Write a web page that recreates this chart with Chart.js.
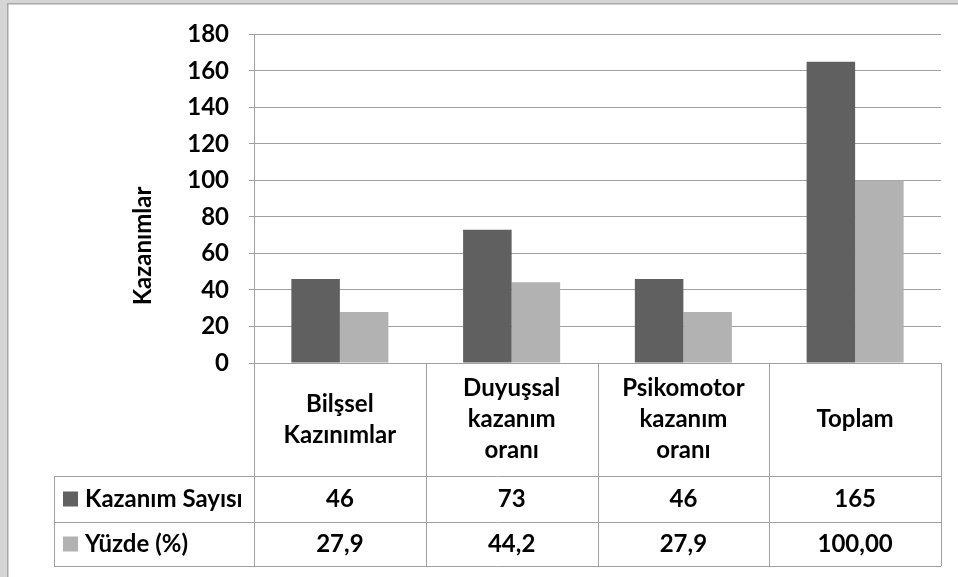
<!DOCTYPE html>
<html>
<head>
<meta charset="utf-8">
<script src="https://cdn.jsdelivr.net/npm/chart.js@4.4.1/dist/chart.umd.min.js"></script>
<style>
    html, body { margin: 0; padding: 0; background: #fff; }
    canvas { display: block; }
</style>
</head>
<body>
<canvas id="chart" width="958" height="577"></canvas>
<script>
// Veriler
const categories = [
    ['Bilşsel', 'Kazınımlar'],
    ['Duyuşsal', 'kazanım', 'oranı'],
    ['Psikomotor', 'kazanım', 'oranı'],
    ['Toplam']
];
const seriesNames = ['Kazanım Sayısı', 'Yüzde (%)'];
const kazanimSayisi = [46, 73, 46, 165];
const yuzde = [27.9, 44.2, 27.9, 100];
const kazanimLabels = ['46', '73', '46', '165'];
const yuzdeLabels = ['27,9', '44,2', '27,9', '100,00'];
const yMin = 0, yMax = 180, yStep = 20;
const yTitle = 'Kazanımlar';

const darkColor = '#606060';
const lightColor = '#b2b2b2';
const lineColor = '#a0a0a0';
const fontFamily = 'Lato, "Open Sans", sans-serif';

// Çerçeve (gri kenar)
const framePlugin = {
    id: 'frame',
    beforeDraw(chart) {
        const ctx = chart.ctx;
        ctx.save();
        ctx.fillStyle = '#fff';
        ctx.fillRect(0, 0, chart.width, chart.height);
        ctx.fillStyle = '#d6d6d6';
        ctx.fillRect(0, 0, chart.width, 3);
        ctx.fillRect(0, 0, 7, chart.height);
        ctx.fillStyle = '#a8a8a8';
        ctx.fillRect(7, 3, chart.width - 7, 1.5);
        ctx.fillRect(7, 3, 1.5, chart.height - 3);
        ctx.restore();
    }
};

// Veri tablosu ve eksen başlığı
const tablePlugin = {
    id: 'dataTable',
    afterDraw(chart) {
        const ctx = chart.ctx;
        const area = chart.chartArea;
        const xs = chart.scales.x;
        const n = categories.length;
        const catW = area.width / n;
        const top = area.bottom;
        const row1 = 476, row2 = 522, bottom = 566, legendLeft = 54;

        ctx.save();
        ctx.strokeStyle = lineColor;
        ctx.lineWidth = 1;

        function hLine(x1, x2, y) {
            ctx.beginPath();
            ctx.moveTo(x1, Math.round(y) + 0.5);
            ctx.lineTo(x2, Math.round(y) + 0.5);
            ctx.stroke();
        }
        function vLine(x, y1, y2) {
            ctx.beginPath();
            ctx.moveTo(Math.round(x) + 0.5, y1);
            ctx.lineTo(Math.round(x) + 0.5, y2);
            ctx.stroke();
        }

        hLine(area.left, area.right, top);
        hLine(legendLeft, area.right, row1);
        hLine(legendLeft, area.right, row2);
        hLine(legendLeft, area.right, bottom);
        vLine(legendLeft, row1, bottom);
        vLine(area.left, top, bottom);
        for (let i = 0; i < n; i++) {
            vLine(xs.getPixelForValue(i) + catW / 2, top, bottom);
        }

        ctx.fillStyle = '#000';
        ctx.font = 'bold 24px ' + fontFamily;
        ctx.textAlign = 'center';
        ctx.textBaseline = 'middle';
        const lineH = 31;
        categories.forEach((lines, i) => {
            const cx = xs.getPixelForValue(i);
            const cy = (top + row1) / 2;
            lines.forEach((t, k) => {
                ctx.fillText(t, cx, cy + (k - (lines.length - 1) / 2) * lineH);
            });
            ctx.fillText(kazanimLabels[i], cx, (row1 + row2) / 2);
            ctx.fillText(yuzdeLabels[i], cx, (row2 + bottom) / 2);
        });

        // Lejant hücreleri
        ctx.textAlign = 'left';
        [[darkColor, (row1 + row2) / 2], [lightColor, (row2 + bottom) / 2]].forEach(([c, y], k) => {
            ctx.fillStyle = c;
            ctx.fillRect(63, y - 7.5, 15, 15);
            ctx.fillStyle = '#000';
            ctx.fillText(seriesNames[k], 85, y);
        });

        // Y ekseni başlığı
        ctx.translate(143, 246);
        ctx.rotate(-Math.PI / 2);
        ctx.textAlign = 'center';
        ctx.font = 'bold 24px ' + fontFamily;
        ctx.fillText(yTitle, 0, 0);
        ctx.restore();
    }
};

const ctx = document.getElementById('chart').getContext('2d');
new Chart(ctx, {
    type: 'bar',
    data: {
        labels: categories,
        datasets: [
            {
                label: seriesNames[0],
                data: kazanimSayisi,
                backgroundColor: darkColor,
                categoryPercentage: 0.565,
                barPercentage: 1
            },
            {
                label: seriesNames[1],
                data: yuzde,
                backgroundColor: lightColor,
                categoryPercentage: 0.565,
                barPercentage: 1
            }
        ]
    },
    options: {
        responsive: false,
        animation: false,
        devicePixelRatio: 1,
        layout: {
            padding: { top: 33, right: 17, bottom: 0, left: 0 }
        },
        plugins: {
            legend: { display: false },
            tooltip: { enabled: false }
        },
        scales: {
            x: {
                ticks: { display: false },
                grid: { display: false },
                border: { display: false },
                afterFit: function(scale) {
                    scale.height = 577 - 363;
                }
            },
            y: {
                min: yMin,
                max: yMax,
                ticks: {
                    stepSize: yStep,
                    color: '#000',
                    padding: 20,
                    font: { family: fontFamily, size: 24, weight: 'bold' }
                },
                grid: {
                    color: lineColor,
                    lineWidth: 1,
                    tickLength: 5,
                    tickColor: lineColor
                },
                border: { display: true, color: lineColor, width: 1 },
                afterFit: function(scale) {
                    scale.width = 254;
                }
            }
        }
    },
    plugins: [framePlugin, tablePlugin]
});
</script>
</body>
</html>
